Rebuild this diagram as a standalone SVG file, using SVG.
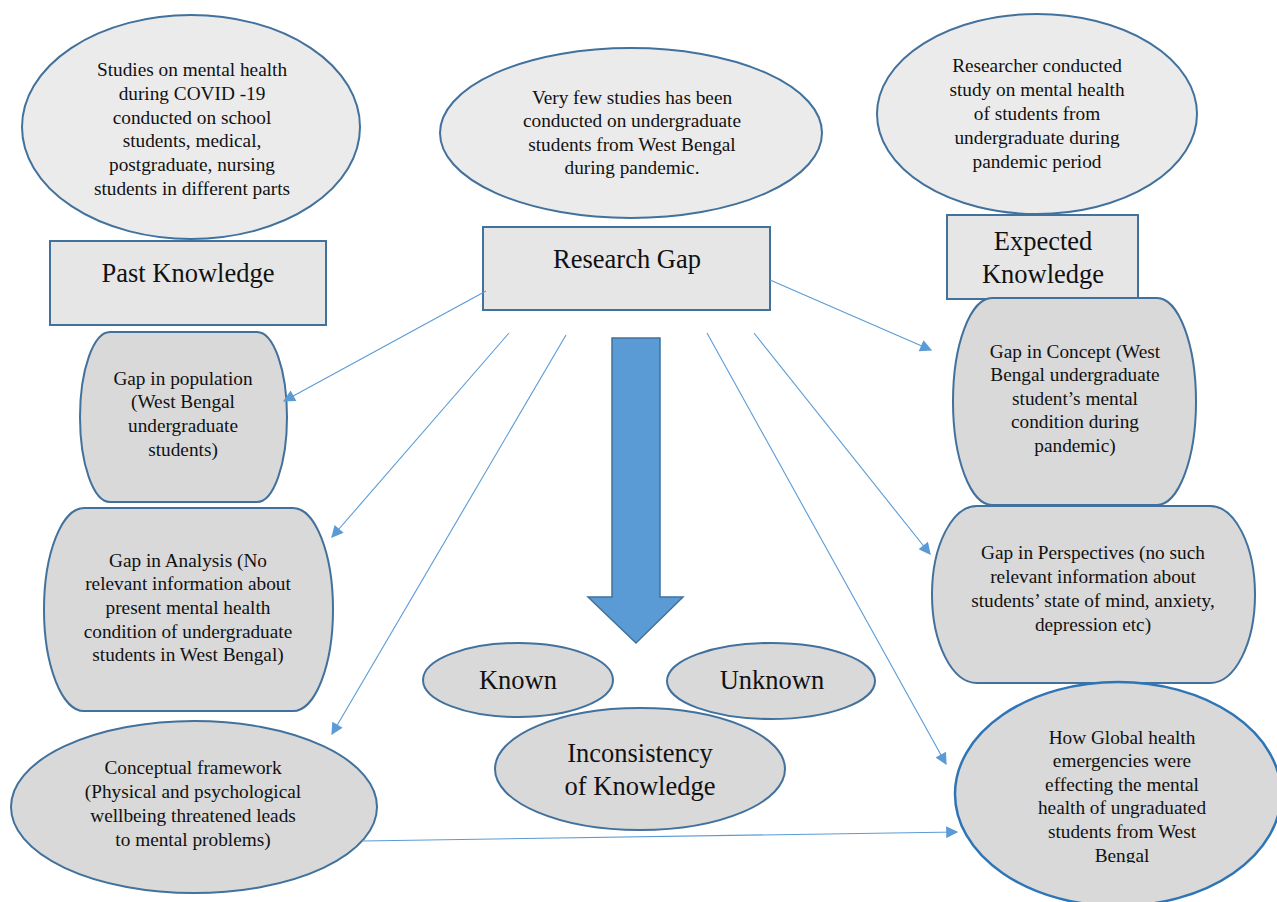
<svg xmlns="http://www.w3.org/2000/svg" width="1277" height="902" viewBox="0 0 1277 902">
<defs>
<style>
.t{font-family:"Liberation Serif","Times New Roman",serif;font-size:19.3px;fill:#111;text-anchor:middle}
.b{font-family:"Liberation Serif","Times New Roman",serif;font-size:26.5px;fill:#111;text-anchor:middle}
.el{fill:#EBEBEB;stroke:#41719C;stroke-width:2}
.rc{fill:#E7E6E6;stroke:#41719C;stroke-width:2}
.gs{fill:#D9D9D9;stroke:#41719C;stroke-width:2}
.cn{stroke:#5B9BD5;stroke-width:1.1;fill:none;marker-end:url(#ah)}
</style>
<marker id="ah" viewBox="0 0 10 10" refX="9" refY="5" markerWidth="14" markerHeight="12" markerUnits="userSpaceOnUse" orient="auto">
<path d="M0,0 L10,5 L0,10 z" fill="#5B9BD5"/>
</marker>
<clipPath id="clipBR"><rect x="940" y="720" width="340" height="143"/></clipPath>
</defs>
<rect width="1277" height="902" fill="#fff"/>

<g id="past-studies">
<ellipse class="el" cx="191" cy="127" rx="169" ry="112"/>
<text class="t" x="192" y="76">Studies on mental health</text>
<text class="t" x="192" y="100">during COVID -19</text>
<text class="t" x="192" y="124">conducted on school</text>
<text class="t" x="192" y="147">students, medical,</text>
<text class="t" x="192" y="171">postgraduate, nursing</text>
<text class="t" x="192" y="195">students in different parts</text>
</g>
<g id="past-knowledge">
<rect class="rc" x="50" y="241" width="276" height="84"/>
<text class="b" x="188" y="282">Past Knowledge</text>
</g>

<g id="few-studies">
<ellipse class="el" cx="631" cy="133" rx="191" ry="85"/>
<text class="t" x="632" y="104">Very few studies has been</text>
<text class="t" x="632" y="127">conducted on undergraduate</text>
<text class="t" x="632" y="151">students from West Bengal</text>
<text class="t" x="632" y="174">during pandemic.</text>
</g>
<g id="research-gap">
<rect class="rc" x="483" y="227" width="287" height="83"/>
<text class="b" x="627" y="268">Research Gap</text>
</g>

<g id="researcher-study">
<ellipse class="el" cx="1037" cy="114" rx="160" ry="100"/>
<text class="t" x="1037" y="72">Researcher conducted</text>
<text class="t" x="1037" y="96">study on mental health</text>
<text class="t" x="1037" y="120">of students from</text>
<text class="t" x="1037" y="144">undergraduate during</text>
<text class="t" x="1037" y="168">pandemic period</text>
</g>
<g id="expected-knowledge">
<rect class="rc" x="947" y="215" width="191" height="84"/>
<text class="b" x="1043" y="250">Expected</text>
<text class="b" x="1043" y="283">Knowledge</text>
</g>

<g id="gap-population">
<path class="gs" d="M110,332 H257 A30,85 0 0 1 257,502 H110 A30,85 0 0 1 110,332 Z"/>
<text class="t" x="183" y="385">Gap in population</text>
<text class="t" x="183" y="408">(West Bengal</text>
<text class="t" x="183" y="432">undergraduate</text>
<text class="t" x="183" y="456">students)</text>
</g>

<g id="gap-analysis">
<path class="gs" d="M84,508 H293 A40,101.5 0 0 1 293,711 H84 A40,101.5 0 0 1 84,508 Z"/>
<text class="t" x="188" y="567">Gap in Analysis (No</text>
<text class="t" x="188" y="590">relevant information about</text>
<text class="t" x="188" y="614">present mental health</text>
<text class="t" x="188" y="638">condition of undergraduate</text>
<text class="t" x="188" y="661">students in West Bengal)</text>
</g>

<g id="conceptual-framework">
<ellipse class="gs" cx="194" cy="807" rx="183" ry="86"/>
<text class="t" x="193" y="774">Conceptual framework</text>
<text class="t" x="193" y="798">(Physical and psychological</text>
<text class="t" x="193" y="822">wellbeing threatened leads</text>
<text class="t" x="193" y="846">to mental problems)</text>
</g>

<g id="gap-concept">
<path class="gs" d="M992,298 H1157 A39,103.5 0 0 1 1157,505 H992 A39,103.5 0 0 1 992,298 Z"/>
<text class="t" x="1075" y="358">Gap in Concept (West</text>
<text class="t" x="1075" y="381">Bengal undergraduate</text>
<text class="t" x="1075" y="405">student’s mental</text>
<text class="t" x="1075" y="428">condition during</text>
<text class="t" x="1075" y="452">pandemic)</text>
</g>

<g id="gap-perspectives">
<path class="gs" d="M977,506 H1210 A45,88.5 0 0 1 1210,683 H977 A45,88.5 0 0 1 977,506 Z"/>
<text class="t" x="1093" y="559">Gap in Perspectives (no such</text>
<text class="t" x="1093" y="583">relevant information about</text>
<text class="t" x="1093" y="607">students’ state of mind, anxiety,</text>
<text class="t" x="1093" y="631">depression etc)</text>
</g>

<g id="global-health">
<ellipse cx="1118" cy="794" rx="163" ry="112" fill="#D9D9D9" stroke="#2E75B6" stroke-width="2.5"/>
<g clip-path="url(#clipBR)">
<text class="t" x="1122" y="744">How Global health</text>
<text class="t" x="1122" y="767">emergencies were</text>
<text class="t" x="1122" y="791">effecting the mental</text>
<text class="t" x="1122" y="814">health of ungraduated</text>
<text class="t" x="1122" y="838">students from West</text>
<text class="t" x="1122" y="862">Bengal</text>
</g>
</g>

<g id="big-arrow">
<path d="M612,338 H660 V597 H683 L636,643 L588,597 H612 Z" fill="#5B9BD5" stroke="#41719C" stroke-width="1.5"/>
</g>

<g id="known">
<ellipse class="gs" cx="518" cy="680" rx="95" ry="37"/>
<text class="b" x="518" y="689">Known</text>
</g>
<g id="unknown">
<ellipse class="gs" cx="771" cy="681" rx="104" ry="38"/>
<text class="b" x="772" y="689">Unknown</text>
</g>
<g id="inconsistency">
<ellipse class="gs" cx="640" cy="769" rx="145" ry="61"/>
<text class="b" x="640" y="762">Inconsistency</text>
<text class="b" x="640" y="795">of Knowledge</text>
</g>

<g id="connectors">
<line class="cn" x1="486" y1="291" x2="284" y2="401"/>
<line class="cn" x1="509" y1="333" x2="332" y2="537"/>
<line class="cn" x1="566" y1="335" x2="332" y2="734"/>
<line class="cn" x1="707" y1="333" x2="946" y2="764"/>
<line class="cn" x1="754" y1="333" x2="930" y2="554"/>
<line class="cn" x1="770" y1="280" x2="931" y2="350"/>
<line class="cn" x1="362" y1="841" x2="957" y2="832"/>
</g>
</svg>
